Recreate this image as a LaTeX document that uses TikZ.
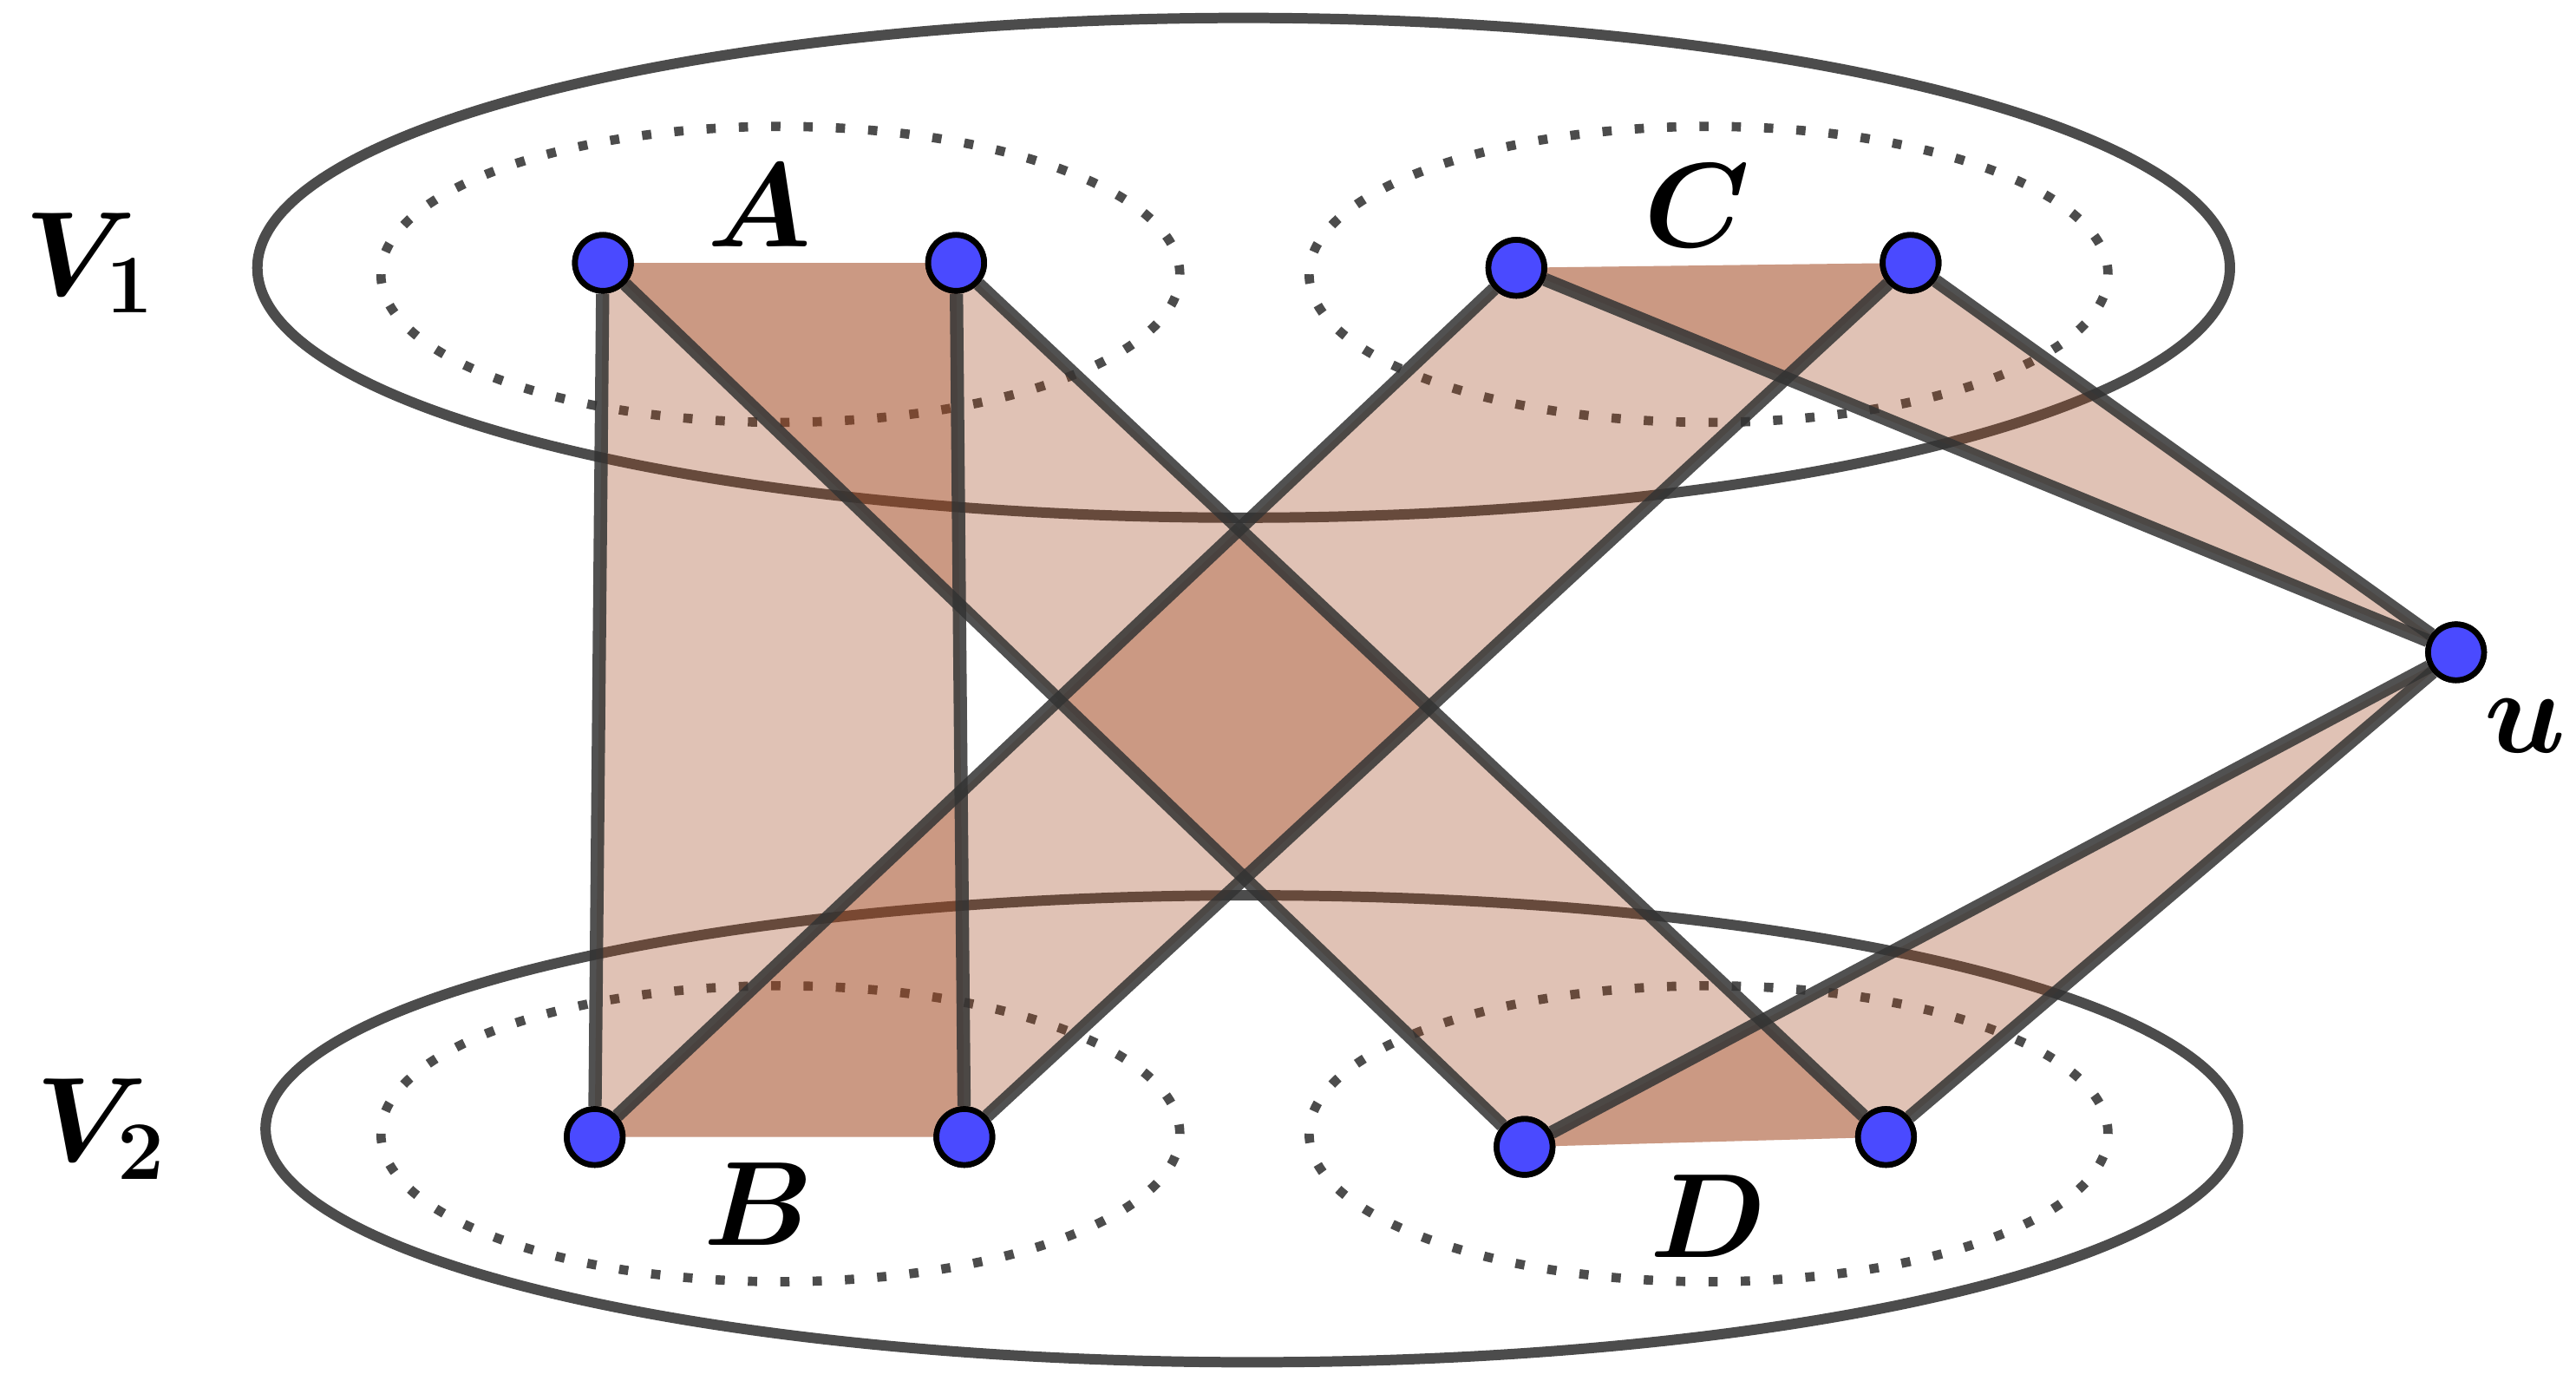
\documentclass[tikz,border=0pt]{standalone}
\usepackage{bm}
\begin{document}
\begin{tikzpicture}[x=0.01cm,y=-0.01cm,
  vtx/.style={circle,fill={rgb,255:red,74;green,74;blue,255},draw=black,line width=1pt,minimum size=0.34cm,inner sep=0pt},
  edge/.style={draw=black!80,opacity=0.85,line width=2.3pt},
  big/.style={draw=black!70,line width=1.8pt},
  dots/.style={draw=black!70,line width=1.6pt,dash pattern=on 1.6pt off 4pt},
  face/.style={fill={rgb,255:red,160;green,70;blue,30},fill opacity=0.33},
  lab/.style={font=\fontsize{22}{26}\selectfont}]
\useasboundingbox (0,0) rectangle (1568,840);
\coordinate (a1) at (367,160); \coordinate (a2) at (582,160);
\coordinate (c1) at (923,163); \coordinate (c2) at (1163,160);
\coordinate (u) at (1495,397);
\coordinate (b1) at (362,692); \coordinate (b2) at (587,692);
\coordinate (d1) at (928,698); \coordinate (d2) at (1148,692);
% big ellipses
\draw[big] (757,163) ellipse [x radius=6cm,y radius=1.52cm];
\draw[big] (762,687) ellipse [x radius=6cm,y radius=1.42cm];
\draw[dots] (475,167) ellipse [x radius=2.43cm,y radius=0.9cm];
\draw[dots] (1040,167) ellipse [x radius=2.43cm,y radius=0.9cm];
\draw[dots] (475,690) ellipse [x radius=2.43cm,y radius=0.9cm];
\draw[dots] (1040,690) ellipse [x radius=2.43cm,y radius=0.9cm];
% faces
\fill[face] (a1)--(a2)--(b2)--(b1)--cycle;
\fill[face] (a1)--(a2)--(d2)--(d1)--cycle;
\fill[face] (c1)--(c2)--(b2)--(b1)--cycle;
\fill[face] (c1)--(c2)--(u)--cycle;
\fill[face] (d1)--(d2)--(u)--cycle;
% vertices
\node[vtx] (A1) at (a1) {}; \node[vtx] (A2) at (a2) {};
\node[vtx] (C1) at (c1) {}; \node[vtx] (C2) at (c2) {};
\node[vtx] (U) at (u) {};
\node[vtx] (B1) at (b1) {}; \node[vtx] (B2) at (b2) {};
\node[vtx] (D1) at (d1) {}; \node[vtx] (D2) at (d2) {};
% edges
\begin{scope}[on background layer/.style={}]
\draw[edge] (A1)--(B1); \draw[edge] (A2)--(B2);
\draw[edge] (A1)--(D1); \draw[edge] (A2)--(D2);
\draw[edge] (C1)--(B1); \draw[edge] (C2)--(B2);
\draw[edge] (C1)--(U); \draw[edge] (C2)--(U);
\draw[edge] (D1)--(U); \draw[edge] (D2)--(U);
\end{scope}
% redraw vertices on top
\foreach \p in {a1,a2,c1,c2,u,b1,b2,d1,d2} \node[vtx] at (\p) {};
% labels
\node[lab] (lv1) at (55,160) {$\bm{V_1}$};
\node[lab] (lv2) at (62,687) {$\bm{V_2}$};
\node[lab] (la) at (462,125) {$\bm{A}$};
\node[lab] (lc) at (1033,125) {$\bm{C}$};
\node[lab] (lb) at (462,733) {$\bm{B}$};
\node[lab] (ld) at (1040,740) {$\bm{D}$};
\node[lab] (lu) at (1537,442) {$\bm{u}$};
\end{tikzpicture}
\end{document}
